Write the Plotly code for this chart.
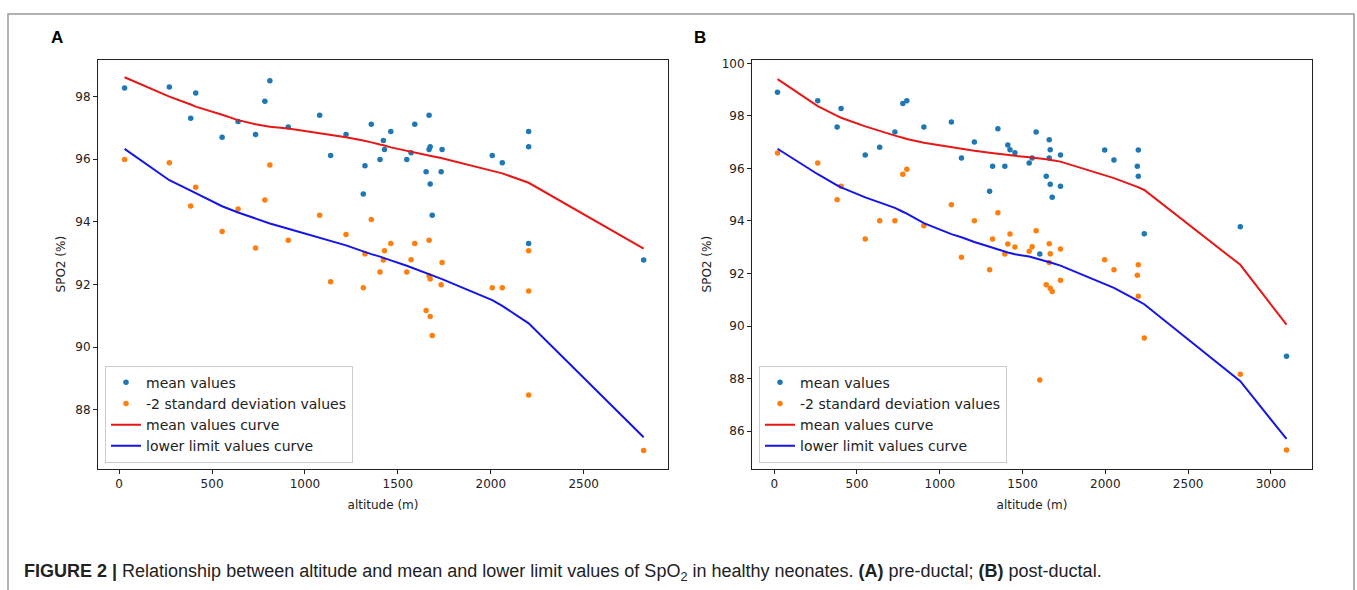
import plotly.graph_objects as go

# Panel A (pre-ductal): points.
altitude_a = [29, 270, 412, 385, 554, 640, 734, 784, 811, 910, 1079, 1138, 1221, 1323, 1357, 1314, 1404,
              1462, 1422, 1428, 1548, 1571, 1591, 1668, 1674, 1668, 1738, 1652, 1733, 1674, 1685, 2008,
              2062, 2204, 2204, 2204, 2823]
mean_a = [98.28, 98.31, 98.12, 97.31, 96.70, 97.21, 96.79, 97.85, 98.51, 97.03, 97.41, 96.12, 96.79, 95.79,
          97.12, 94.89, 95.99, 96.89, 96.60, 96.31, 95.99, 96.21, 97.12, 97.41, 96.40, 96.31, 96.31, 95.60,
          95.60, 95.21, 94.21, 96.12, 95.89, 96.89, 96.40, 93.31, 92.78]
sd2_a = [95.99, 95.89, 95.11, 94.51, 93.69, 94.41, 93.17, 94.70, 95.82, 93.41, 94.21, 92.09, 93.60, 92.98,
         94.08, 91.90, 92.40, 93.31, 92.78, 93.08, 92.40, 92.79, 93.31, 93.41, 92.18, 92.28, 92.70, 91.17,
         91.99, 90.98, 90.37, 91.90, 91.90, 93.08, 91.79, 88.47, 86.70]
curve_altitude_a = [29, 270, 385, 412, 554, 640, 734, 784, 811, 910, 1079, 1138, 1221, 1314, 1323, 1357, 1404,
                    1422, 1428, 1462, 1548, 1571, 1591, 1652, 1668, 1674, 1685, 1733, 1738, 2008, 2062, 2204,
                    2823]
mean_curve_a = [98.62, 98.00, 97.75, 97.68, 97.42, 97.25, 97.12, 97.07, 97.04, 96.98, 96.84, 96.78, 96.70,
                96.60, 96.59, 96.54, 96.47, 96.45, 96.44, 96.38, 96.28, 96.25, 96.22, 96.15, 96.13, 96.12,
                96.10, 96.04, 96.03, 95.63, 95.55, 95.25, 93.15]
lower_curve_a = [96.33, 95.33, 95.00, 94.92, 94.50, 94.30, 94.10, 94.00, 93.95, 93.78, 93.50, 93.40, 93.25,
                 93.06, 93.04, 92.97, 92.89, 92.85, 92.84, 92.77, 92.60, 92.55, 92.50, 92.37, 92.33, 92.31,
                 92.28, 92.18, 92.17, 91.50, 91.32, 90.76, 87.12]

# Panel B (post-ductal).
altitude_b = [20, 263, 380, 404, 550, 637, 729, 777, 801, 904, 1070, 1131, 1209, 1301, 1319, 1351, 1393, 1411,
              1424, 1454, 1540, 1558, 1582, 1604, 1643, 1661, 1661, 1667, 1667, 1679, 1729, 1729, 1996, 2052,
              2193, 2199, 2199, 2235, 2815, 3094]
mean_b = [98.90, 98.58, 97.58, 98.28, 96.51, 96.81, 97.39, 98.47, 98.58, 97.58, 97.77, 96.40, 97.01, 95.13,
          96.08, 97.51, 96.08, 96.89, 96.71, 96.60, 96.21, 96.40, 97.39, 92.74, 95.70, 97.09, 96.40, 96.71,
          95.40, 94.90, 96.51, 95.32, 96.70, 96.32, 96.08, 96.70, 95.70, 93.51, 93.78, 88.85]
sd2_b = [96.59, 96.21, 94.81, 95.32, 93.31, 94.01, 94.01, 95.78, 95.97, 93.82, 94.62, 92.62, 94.01, 92.14,
         93.31, 94.31, 92.74, 93.12, 93.50, 93.01, 92.85, 93.02, 93.63, 87.94, 91.57, 93.13, 92.42, 92.75,
         91.44, 91.31, 92.93, 91.74, 92.52, 92.14, 91.93, 92.33, 91.13, 89.54, 88.16, 85.28]
curve_altitude_b = [20, 263, 380, 404, 550, 637, 729, 777, 801, 904, 1070, 1131, 1209, 1301, 1319, 1351, 1393,
                    1411, 1424, 1454, 1540, 1558, 1582, 1604, 1643, 1661, 1667, 1679, 1729, 1996, 2052, 2193,
                    2199, 2235, 2815, 3094]
mean_curve_b = [99.40, 98.37, 98.00, 97.93, 97.60, 97.42, 97.25, 97.17, 97.12, 96.98, 96.80, 96.74, 96.67,
                96.60, 96.58, 96.56, 96.53, 96.51, 96.50, 96.48, 96.43, 96.42, 96.40, 96.38, 96.35, 96.33,
                96.32, 96.31, 96.26, 95.76, 95.63, 95.30, 95.28, 95.18, 92.33, 90.05]
lower_curve_b = [96.75, 95.78, 95.36, 95.28, 94.90, 94.70, 94.50, 94.35, 94.28, 93.92, 93.50, 93.38, 93.20,
                 93.02, 92.98, 92.92, 92.84, 92.80, 92.78, 92.73, 92.65, 92.62, 92.59, 92.55, 92.48, 92.44,
                 92.43, 92.40, 92.30, 91.60, 91.45, 90.98, 90.96, 90.83, 87.90, 85.70]

x_ticks_a = [0, 500, 1000, 1500, 2000, 2500]
y_ticks_a = [88, 90, 92, 94, 96, 98]
x_ticks_b = [0, 500, 1000, 1500, 2000, 2500, 3000]
y_ticks_b = [86, 88, 90, 92, 94, 96, 98, 100]

font_mpl = 'DejaVu Sans'
blue_dot = '#1f77b4'
orange_dot = '#ff7f0e'


def add_panel(figure, suffix, legend_name, altitude, mean, sd2, curve_altitude, mean_curve, lower_curve):
    figure.add_trace(go.Scatter(
        x=altitude, y=mean, mode='markers', name='mean values',
        marker=dict(color=blue_dot, size=5.5), xaxis='x' + suffix, yaxis='y' + suffix, legend=legend_name
    ))
    figure.add_trace(go.Scatter(
        x=altitude, y=sd2, mode='markers', name='-2 standard deviation values',
        marker=dict(color=orange_dot, size=5.5), xaxis='x' + suffix, yaxis='y' + suffix, legend=legend_name
    ))
    figure.add_trace(go.Scatter(
        x=curve_altitude, y=mean_curve, mode='lines', name='mean values curve',
        line=dict(color='#e81717', width=2), xaxis='x' + suffix, yaxis='y' + suffix, legend=legend_name
    ))
    figure.add_trace(go.Scatter(
        x=curve_altitude, y=lower_curve, mode='lines', name='lower limit values curve',
        line=dict(color='#1515e8', width=2), xaxis='x' + suffix, yaxis='y' + suffix, legend=legend_name
    ))


fig = go.Figure()
add_panel(fig, '', 'legend', altitude_a, mean_a, sd2_a, curve_altitude_a, mean_curve_a, lower_curve_a)
add_panel(fig, '2', 'legend2', altitude_b, mean_b, sd2_b, curve_altitude_b, mean_curve_b, lower_curve_b)

axis_style = dict(
    showgrid=False, zeroline=False, showline=True, linecolor='#222222', linewidth=1, mirror=True,
    ticks='outside', ticklen=4, tickcolor='#222222', tickfont=dict(family=font_mpl, size=12, color='#222222'),
    title_font=dict(family=font_mpl, size=12, color='#222222')
)
y_domain = [1 - 468 / 590, 1 - 57 / 590]
legend_style = dict(
    xanchor='left', yanchor='bottom', bgcolor='rgba(255,255,255,0.85)', bordercolor='#cccccc', borderwidth=1,
    font=dict(family=font_mpl, size=14, color='#222222'), tracegroupgap=0
)

fig.update_layout(
    width=1357, height=590,
    margin=dict(l=0, r=0, t=0, b=0),
    paper_bgcolor='white', plot_bgcolor='white',
    xaxis=dict(axis_style, domain=[98 / 1357, 668 / 1357], range=[-114, 2954], tickvals=x_ticks_a,
               title=dict(text='altitude (m)', standoff=10)),
    yaxis=dict(axis_style, domain=y_domain, range=[86.12, 99.18], tickvals=y_ticks_a,
               title=dict(text='SPO2 (%)', standoff=7)),
    xaxis2=dict(axis_style, domain=[752 / 1357, 1312 / 1357], range=[-134, 3248], tickvals=x_ticks_b,
                anchor='y2', title=dict(text='altitude (m)', standoff=10)),
    yaxis2=dict(axis_style, domain=y_domain, range=[84.57, 100.14], tickvals=y_ticks_b, anchor='x2',
                title=dict(text='SPO2 (%)', standoff=7)),
    legend=dict(legend_style, x=105 / 1357, y=1 - 462 / 590),
    legend2=dict(legend_style, x=759 / 1357, y=1 - 462 / 590),
    shapes=[dict(type='rect', xref='paper', yref='paper', x0=8 / 1357, x1=1354 / 1357, y0=-0.02, y1=1 - 11 / 590,
                 line=dict(color='#999999', width=1.5))],
    annotations=[
        dict(text='<b>A</b>', x=57 / 1357, y=1 - 35 / 590, xref='paper', yref='paper', showarrow=False,
             xanchor='center', yanchor='middle', font=dict(family='Liberation Sans', size=17, color='black')),
        dict(text='<b>B</b>', x=700 / 1357, y=1 - 35 / 590, xref='paper', yref='paper', showarrow=False,
             xanchor='center', yanchor='middle', font=dict(family='Liberation Sans', size=17, color='black')),
        dict(text='<b>FIGURE 2 |</b> Relationship between altitude and mean and lower limit values of SpO<sub>2</sub> '
                  'in healthy neonates. <b>(A)</b> pre-ductal; <b>(B)</b> post-ductal.',
             x=22 / 1357, y=1 - 572 / 590, xref='paper', yref='paper', xanchor='left', yanchor='middle',
             showarrow=False, font=dict(family='Liberation Sans', size=18, color='#222222')),
    ],
)

fig.write_html('out.html', config={'displayModeBar': False}, post_script="document.body.style.margin='0';")
